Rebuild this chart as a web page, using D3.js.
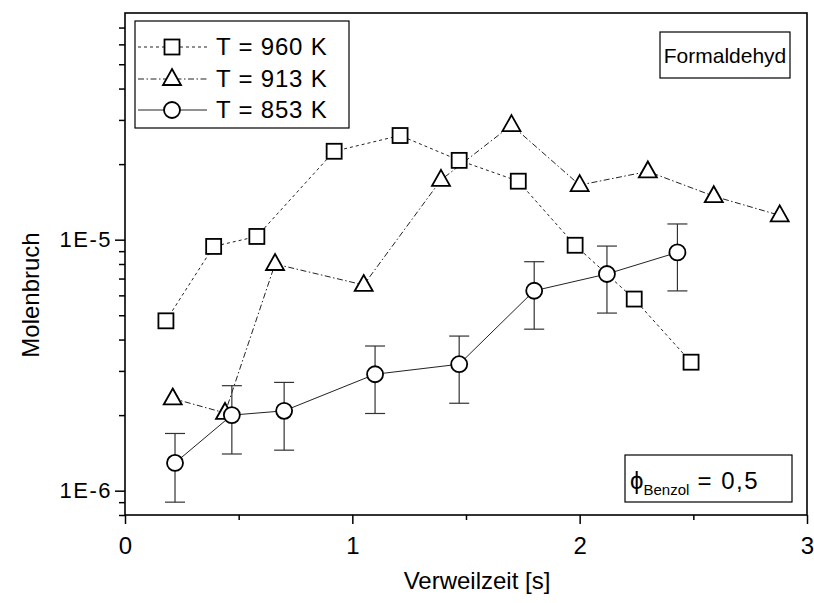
<!DOCTYPE html>
<html><head><meta charset="utf-8">
<script src="https://cdn.jsdelivr.net/npm/d3@7"></script>
<style>body{margin:0;background:#fff}svg{font-family:"Liberation Sans",Arial,sans-serif}</style>
</head><body><svg id="c" width="814" height="603"></svg>
<script>
// ---- data ----
const sqX = [0.18, 0.39, 0.58, 0.92, 1.21, 1.47, 1.73, 1.98, 2.24, 2.49];
const sqY = [4.75e-6, 9.4e-6, 1.03e-5, 2.25e-5, 2.6e-5, 2.07e-5, 1.71e-5, 9.5e-6, 5.8e-6, 3.25e-6];
const triX = [0.21, 0.44, 0.66, 1.05, 1.39, 1.70, 2.00, 2.30, 2.59, 2.88];
const triY = [2.33e-6, 2.04e-6, 8.0e-6, 6.6e-6, 1.73e-5, 2.86e-5, 1.65e-5, 1.87e-5, 1.49e-5, 1.25e-5];
const circX = [0.22, 0.47, 0.70, 1.10, 1.47, 1.80, 2.12, 2.43];
const circY = [1.29e-6, 2.0e-6, 2.08e-6, 2.91e-6, 3.19e-6, 6.26e-6, 7.3e-6, 8.9e-6];
const circLo = [9.0e-7, 1.40e-6, 1.45e-6, 2.03e-6, 2.23e-6, 4.40e-6, 5.1e-6, 6.25e-6];
const circHi = [1.69e-6, 2.62e-6, 2.70e-6, 3.77e-6, 4.13e-6, 8.17e-6, 9.43e-6, 1.155e-5];
const seriesNames = ["T = 960 K", "T = 913 K", "T = 853 K"];
const xMajor = [0, 1, 2, 3];
const xMinor = [0.5, 1.5, 2.5];
const yMajor = [1e-6, 1e-5];
const yMajorLabels = ["1E-6", "1E-5"];
const yMinor = [8e-7, 9e-7, 2e-6, 3e-6, 4e-6, 5e-6, 6e-6, 7e-6, 8e-6, 9e-6, 2e-5, 3e-5, 4e-5, 5e-5, 6e-5, 7e-5];

const FONT = '"Liberation Sans",Arial,sans-serif';
const svg = d3.select("#c");
const L = 125, R = 807, T = 13, B = 515;
const x = d3.scaleLinear().domain([0, 3]).range([L, R]);
const y = d3.scaleLog().domain([8e-7, 8e-5]).range([B, T]);

// axes
const gxMaj = svg.append("g").attr("transform", `translate(0,${B})`)
  .call(d3.axisBottom(x).tickValues(xMajor).tickSize(9).tickPadding(13).tickFormat(d3.format("d")));
const gxMin = svg.append("g").attr("transform", `translate(0,${B})`)
  .call(d3.axisBottom(x).tickValues(xMinor).tickSize(5).tickFormat(""));
const gyMaj = svg.append("g").attr("transform", `translate(${L},0)`)
  .call(d3.axisLeft(y).tickValues(yMajor).tickSize(10).tickPadding(3)
    .tickFormat(d => yMajorLabels[yMajor.indexOf(d)]));
const gyMin = svg.append("g").attr("transform", `translate(${L},0)`)
  .call(d3.axisLeft(y).tickValues(yMinor).tickSize(6).tickFormat(""));
[gxMaj, gxMin, gyMaj, gyMin].forEach(g => {
  g.select(".domain").remove();
  g.selectAll("line").attr("stroke", "#000").attr("stroke-width", 1.5);
  g.selectAll("text").attr("fill", "#000").attr("font-family", FONT);
});
gxMaj.selectAll("text").attr("font-size", 24);
gyMaj.selectAll("text").attr("font-size", 22).attr("letter-spacing", 1.5);

// frame
svg.append("rect").attr("x", L).attr("y", T).attr("width", R - L).attr("height", B - T)
  .attr("fill", "none").attr("stroke", "#000").attr("stroke-width", 1.6);

// axis titles
svg.append("text").attr("x", 477).attr("y", 589).attr("text-anchor", "middle")
  .attr("font-size", 24).text("Verweilzeit [s]");
svg.append("text").attr("transform", `translate(39,295) rotate(-90)`)
  .attr("text-anchor", "middle").attr("font-size", 24).text("Molenbruch");

const lineGen = d3.line().x(d => x(d[0])).y(d => y(d[1]));
const sqData = sqX.map((v, i) => [v, sqY[i]]);
const triData = triX.map((v, i) => [v, triY[i]]);
const circData = circX.map((v, i) => [v, circY[i], circLo[i], circHi[i]]);

const styles = [
  {dash: "3,3"},
  {dash: "6,2.5,1.5,2.5"},
  {dash: null}
];

function drawLine(data, st) {
  svg.append("path").datum(data).attr("d", lineGen).attr("fill", "none")
    .attr("stroke", "#222").attr("stroke-width", 1)
    .attr("stroke-dasharray", st.dash);
}
drawLine(sqData, styles[0]);
drawLine(triData, styles[1]);
drawLine(circData, styles[2]);

// error bars
const eb = svg.append("g").attr("stroke", "#333").attr("stroke-width", 1.2);
eb.selectAll("line.v").data(circData).join("line").attr("class", "v")
  .attr("x1", d => x(d[0])).attr("x2", d => x(d[0])).attr("y1", d => y(d[2])).attr("y2", d => y(d[3]));
eb.selectAll("line.lo").data(circData).join("line").attr("class", "lo")
  .attr("x1", d => x(d[0]) - 10).attr("x2", d => x(d[0]) + 10).attr("y1", d => y(d[2])).attr("y2", d => y(d[2]));
eb.selectAll("line.hi").data(circData).join("line").attr("class", "hi")
  .attr("x1", d => x(d[0]) - 10).attr("x2", d => x(d[0]) + 10).attr("y1", d => y(d[3])).attr("y2", d => y(d[3]));

// markers
function square(g, cx, cy) {
  g.append("rect").attr("x", cx - 7.5).attr("y", cy - 7.5).attr("width", 15).attr("height", 15)
    .attr("fill", "#fff").attr("stroke", "#000").attr("stroke-width", 1.8);
}
function triangle(g, cx, cy) {
  g.append("path").attr("d", `M${cx},${cy - 10}L${cx + 9},${cy + 6}L${cx - 9},${cy + 6}Z`)
    .attr("fill", "#fff").attr("stroke", "#000").attr("stroke-width", 1.8);
}
function circle(g, cx, cy) {
  g.append("circle").attr("cx", cx).attr("cy", cy).attr("r", 8)
    .attr("fill", "#fff").attr("stroke", "#000").attr("stroke-width", 1.8);
}
const mk = svg.append("g");
sqData.forEach(d => square(mk, x(d[0]), y(d[1])));
triData.forEach(d => triangle(mk, x(d[0]), y(d[1])));
circData.forEach(d => circle(mk, x(d[0]), y(d[1])));

// legend
const lg = svg.append("g");
lg.append("rect").attr("x", 135).attr("y", 21).attr("width", 214).attr("height", 107)
  .attr("fill", "#fff").attr("stroke", "#000").attr("stroke-width", 1.2);
const rowsY = [47, 79, 110];
const markerFns = [square, triangle, circle];
seriesNames.forEach((name, i) => {
  lg.append("line").attr("x1", 138).attr("x2", 207).attr("y1", rowsY[i]).attr("y2", rowsY[i])
    .attr("stroke", "#222").attr("stroke-width", 1).attr("stroke-dasharray", styles[i].dash);
  markerFns[i](lg, 172, rowsY[i]);
  lg.append("text").attr("x", 216).attr("y", rowsY[i] + 8).attr("font-size", 24)
    .attr("letter-spacing", 0.8).text(name);
});

// Formaldehyd box
svg.append("rect").attr("x", 660).attr("y", 32).attr("width", 130).attr("height", 46)
  .attr("fill", "#fff").attr("stroke", "#000").attr("stroke-width", 1.2);
svg.append("text").attr("x", 725).attr("y", 63).attr("text-anchor", "middle").attr("font-size", 21).text("Formaldehyd");

// phi box
svg.append("rect").attr("x", 625).attr("y", 455).attr("width", 167).attr("height", 47)
  .attr("fill", "#fff").attr("stroke", "#000").attr("stroke-width", 1.2);
const pt = svg.append("text").attr("x", 630).attr("y", 489).attr("font-size", 24);
pt.append("tspan").text("\u03D5");
pt.append("tspan").attr("font-size", 15).attr("dy", 6).text("Benzol");
pt.append("tspan").attr("dy", -6).attr("letter-spacing", 1.5).text(" = 0,5");
</script></body></html>
